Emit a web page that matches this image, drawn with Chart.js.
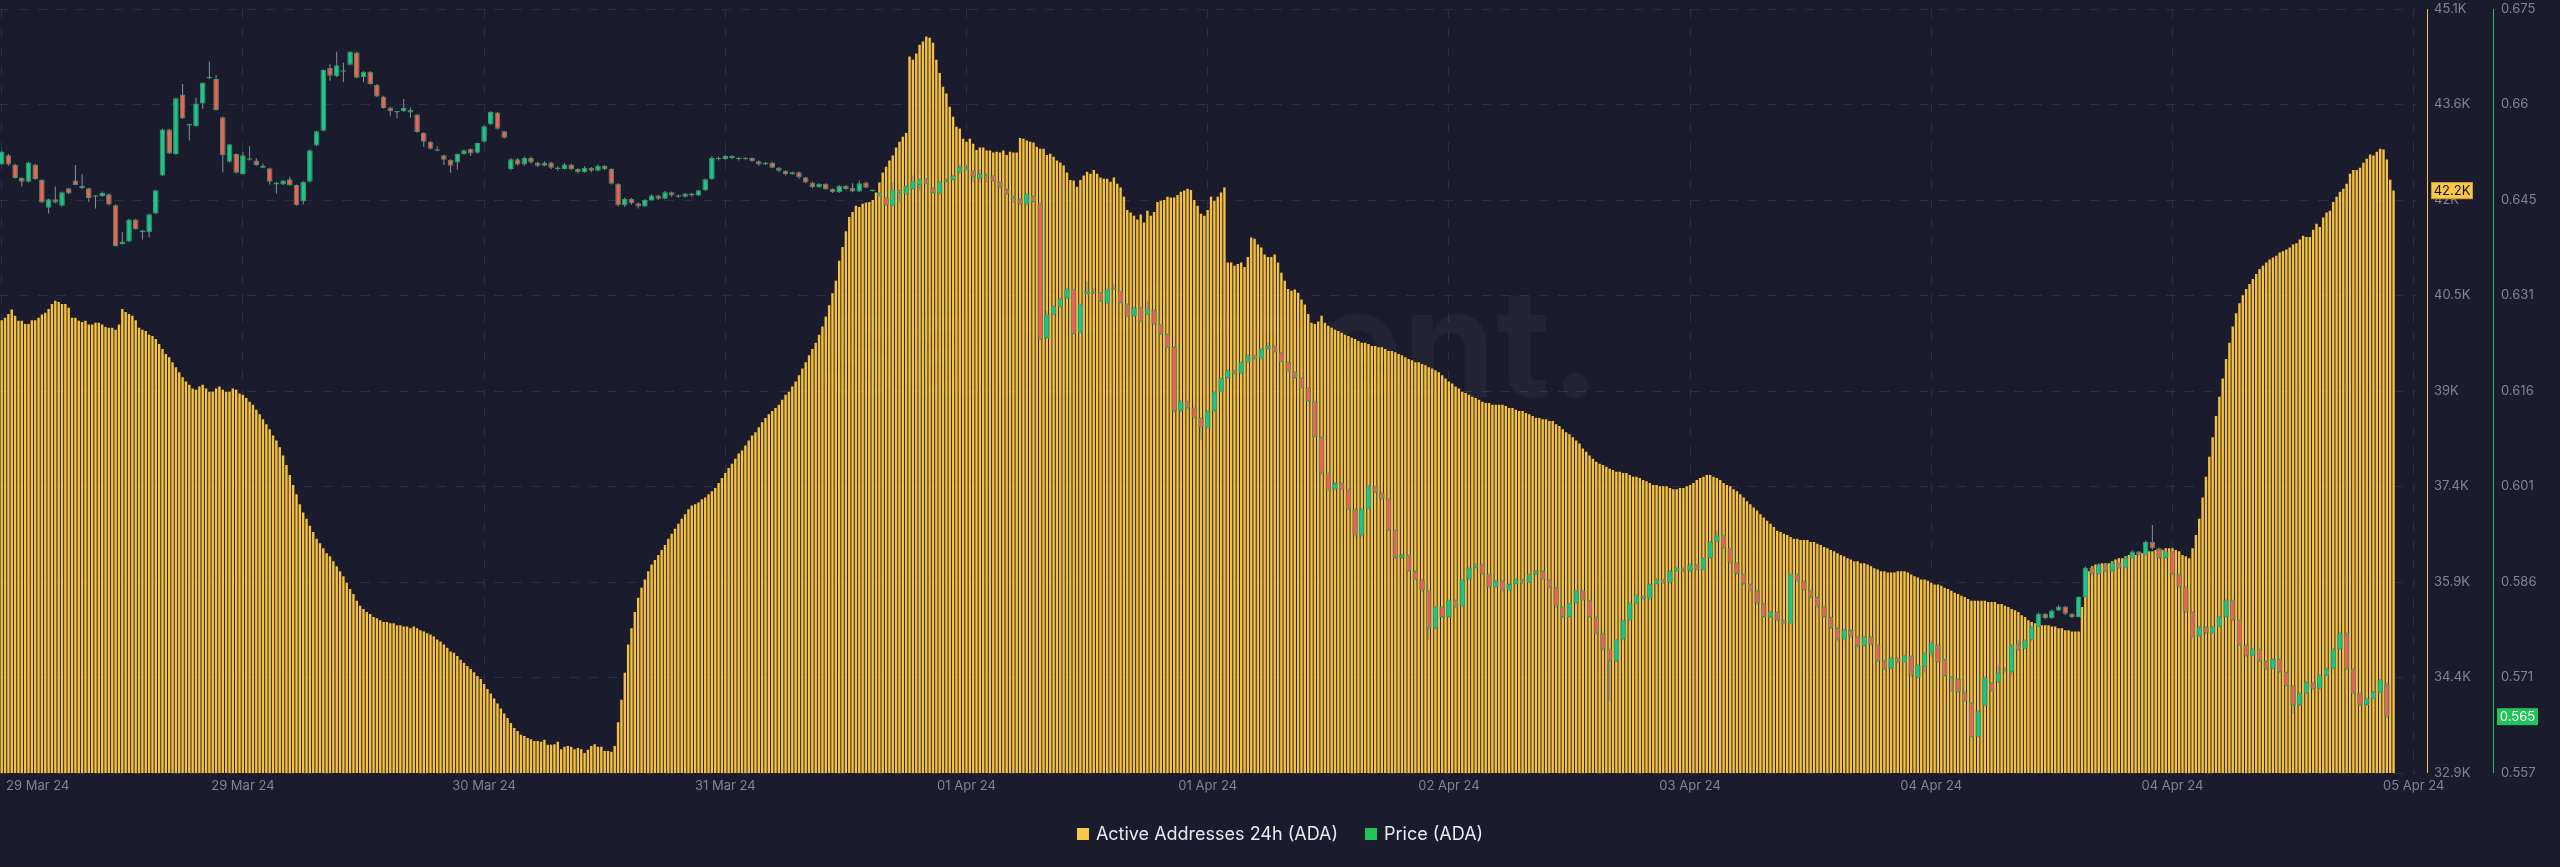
<!DOCTYPE html>
<html>
<head>
<meta charset="utf-8">
<title>Active Addresses 24h vs Price (ADA)</title>
<script src="https://cdn.jsdelivr.net/npm/chart.js@4.4.0/dist/chart.umd.min.js"></script>
<style>
  html, body { margin: 0; padding: 0; background: #1a1b2c; }
  #wrap { position: relative; width: 2560px; height: 867px; }
  #legend {
    position: absolute; left: 0; top: 825px; width: 2560px;
    display: flex; justify-content: center; gap: 27px;
    font: 18px Inter, "Noto Sans", sans-serif; color: #e9eaf0; line-height: 18px;
  }
  #legend .item { display: flex; align-items: center; gap: 7px; }
  #legend .item i { display: inline-block; width: 12px; height: 12px; }
</style>
</head>
<body>
<div id="wrap">
  <canvas id="chart" width="2560" height="867"></canvas>
  <div id="legend">
    <span class="item"><i style="background:#f9c74a"></i>Active Addresses 24h (ADA)</span>
    <span class="item"><i style="background:#22c35a"></i>Price (ADA)</span>
  </div>
</div>
<script>
// time axis: hours since 29 Mar 24 00:00
const BAR_STEP_HOURS = 0.25    // active addresses, one bar per 15 min
const CANDLE_STEP_HOURS = 0.5  // price candles, 30 min
const xTickHours = [0, 18, 36, 54, 72, 90, 108, 126, 144, 162, 180]
const xTickLabels = ['29 Mar 24', '29 Mar 24', '30 Mar 24', '31 Mar 24', '01 Apr 24', '01 Apr 24',
  '02 Apr 24', '03 Apr 24', '04 Apr 24', '04 Apr 24', '05 Apr 24']

const addressMin = 32900
const addressMax = 45100
const addressTickLabels = ['32.9K', '34.4K', '35.9K', '37.4K', '39K', '40.5K', '42K', '43.6K', '45.1K']
const priceMin = 0.557
const priceMax = 0.675
const priceTickLabels = ['0.557', '0.571', '0.586', '0.601', '0.616', '0.631', '0.645', '0.66', '0.675']

// Active Addresses 24h (ADA)
const activeAddresses = [
  40130,40170,40230,40300,40200,40120,40120,40070,40070,40130,
  40130,40170,40220,40250,40310,40390,40440,40420,40390,40390,
  40330,40170,40170,40120,40100,40120,40060,40060,40090,40090,
  40060,40020,40010,40010,39980,40060,40310,40260,40230,40200,
  40130,40010,39980,
  39960,39900,39880,39830,39750,39670,39590,39540,39460,39380,
  39300,39220,39150,39100,39040,39020,39070,39100,39040,38990,
  38990,39040,39070,39020,38990,38990,39040,39020,38960,38940,
  38890,38830,38780,38700,38630,38550,38470,38390,38290,38210,
  38100,37970,37820,37660,37500,37350,37190,37060,36960,36850,
  36750,36640,36570,36490,36410,36360,36280,36200,36120,36040,
  35940,35840,35760,35650,35570,35520,35470,35440,35390,35370,
  35340,35310,35310,35290,35290,35260,35260,35240,35240,35210,
  35240,35210,35180,35160,35130,35110,35080,35030,35000,34950,
  34900,34840,34820,34770,34710,34660,34610,34560,34510,34450,
  34400,34320,34240,34170,34090,34010,33930,33850,33780,33700,
  33620,33570,33510,33490,33460,33440,33410,33410,
  33400,33430,33350,33350,33360,33400,33280,33320,33330,33320,
  33280,33300,33280,33220,33270,33330,33360,33320,33320,33250,
  33250,33240,33330,33710,34070,
  34500,34950,35210,35470,35700,35860,35990,36120,36230,36300,
  36380,36460,36540,36640,36720,36800,36880,36960,37030,37110,
  37170,37190,37220,37270,37300,37350,37400,37450,37530,37610,
  37690,37770,37840,37920,38000,38050,38130,38210,38290,38340,
  38420,38500,38570,38630,38680,38730,38780,38860,38940,38990,
  39070,39150,39250,39360,39460,39570,39670,39770,39900,40030,
  40190,40370,40560,40760,41080,41300,41550,
  41780,41860,41960,41940,41990,42010,42020,42050,42170,42330,
  42490,42580,42680,42760,42890,42980,43060,43120,44340,44290,
  44390,44530,44580,44660,44640,44560,44290,44080,43860,43750,
  43540,43380,43220,43190,43030,42980,43030,42950,42850,42890,
  42890,42840,42840,42810,42820,42810,42840,42770,42820,42810,
  42810,43040,43030,43000,42980,42970,42900,42870,42870,42770,
  42790,42740,42680,42650,42600,42490,42370,42360,42260,42370,
  42440,42500,42470,42530,42470,42410,42390,42390,42340,42410,
  42310,42250,42100,41890,41850,41800,41740,41820,41690,41880,
  41800,41860,42020,42040,42050,42100,42090,42090,42130,42180,
  42200,42230,42210,42050,41960,41830,41800,41890,42100,42040,
  42100,42170,42250,41050,41050,41000,41030,41050,40980,41140,
  41450,41430,41340,41290,41180,41140,41140,41180,41050,40890,
  40760,40630,40600,40620,40570,40460,40380,40230,40090,40070,
  40110,40200,40090,40040,40010,39980,
  39960,
  39930,39900,39880,39850,39830,39800,39770,39770,39750,39720,
  39720,39700,39700,39670,39640,39640,39620,39590,39570,39540,
  39510,39490,39460,39460,39430,39410,39380,39360,39330,39300,
  39250,39200,39150,39120,39070,39040,38990,38970,38940,38910,
  38890,38860,38830,38810,38810,38780,38780,38780,38780,38760,
  38730,38730,38700,38680,38680,38650,38630,38600,38570,38570,
  38550,38550,38520,38520,38470,38440,38390,38340,38310,38260,
  38210,38160,38080,38030,37970,37920,37870,37840,37820,37790,
  37760,37740,37710,37710,37690,37690,37660,37630,37630,37610,
  37580,37560,37530,37500,37500,37480,37480,37480,37450,37430,
  37430,37450,37450,37480,37500,37530,37580,37610,37630,37660,
  37660,37630,37610,37580,37530,37500,37480,37430,37400,37350,
  37300,37240,37190,37140,37090,37030,36980,36930,36880,36830,
  36770,36750,36720,36700,36670,36640,36640,36620,36620,36620,
  36590,36590,36560,36540,36510,36490,36460,36440,36410,36380,
  36360,36330,36310,36280,36280,36250,36250,36230,36200,36170,
  36150,36120,36120,36100,36100,36100,36120,36120,36120,36100,
  36070,36040,36020,35990,35990,35970,35940,35910,35910,35890,
  35860,35840,35810,35780,35760,35730,35710,35680,35650,35650,
  35650,35650,35650,35630,35630,35630,35600,35600,35570,35550,
  35520,35500,35470,35420,35390,35340,35310,35290,35260,35260,
  35260,35260,35240,35240,35210,35210,35180,35180,35160,35160,
  35160,35550,35860,36120,36200,36230,36230,36250,36250,36250,
  36280,36310,36330,36330,36360,36380,36380,36380,36410,36410,
  36440,36440,36440,36460,36460,36460,36490,36490,36490,36460,
  36440,36380,36360,36330,36490,36700,36960,37300,37630,37950,
  38260,38600,38910,39200,39510,39770,40030,40240,40400,40530,
  40630,40710,40790,40870,40950,41000,41050,41100,41130,41160,
  41210,41230,41260,41290,41340,41360,41420,
  41480,41460,41460,41575,41670,41620,41770,41850,41880,42020,
  42100,42180,42230,42310,42470,42530,42530,42565,42645,42710,
  42775,42760,42820,42870,42855,42695,42375,42200
]

// Price (ADA), 30 min candles
const priceOpen = [
  .6510,.6524,.6510,.6489,.6483,.6510,.6486,.6443,.6456,.6446,
  .6473,.6485,.6477,.6473,.6461,.6461,.6464,.6447,.6387,.6391,
  .6425,.6408,.6405,.6434,.6493,.6564,.6526,.6618,.6570,.6569,
  .6604,.6643,.6642,.6583,.6514,.6526,.6495,.6519,.6516,.6508,
  .6504,.6482,.6479,.6487,.6478,.6453,.6483,.6539,.6562,.6659,
  .6646,.6654,.6664,.6683,.6645,.6653,.6633,.6615,.6598,.6591,
  .6592,.6594,.6587,.6559,.6545,.6533,.6524,.6517,.6513,.6526,
  .6534,.6528,.6545,.6572,.6590,.6561,.6503,.6518,.6510,.6520,
  .6513,.6508,.6513,.6505,.6503,.6510,.6503,.6498,.6505,.6500,
  .6508,.6503,.6480,.6447,.6457,.6450,.6445,.6455,.6462,.6457,
  .6467,.6462,.6460,.6465,.6462,.6470,.6487,.6520,.6518,.6523,
  .6520,.6518,.6520,.6515,.6510,.6513,.6505,.6500,.6495,.6498,
  .6490,.6482,.6475,.6480,.6472,.6467,.6477,.6474,.6468,.6482,
  .6470,.6466,.6459,.6446,.6470,.6464,.6472,.6478,.6488,.6474,
  .6465,.6486,.6486,.6497,.6506,.6500,.6489,.6494,.6493,.6483,
  .6472,.6461,.6457,.6448,.6461,.6450,.6242,.6278,.6290,.6303,
  .6317,.6250,.6309,.6313,.6312,.6295,.6317,.6314,.6294,.6276,
  .6289,.6278,.6285,.6263,.6248,.6228,.6129,.6144,.6134,.6119,
  .6104,.6129,.6159,.6180,.6192,.6187,.6205,.6215,.6210,.6225,
  .6230,.6220,.6205,.6190,.6180,.6165,.6144,.6089,.6033,.6008,
  .6018,.6008,.5978,.5937,.5978,.6013,.6003,.5993,.5945,.5902,
  .5907,.5882,.5869,.5852,.5794,.5827,.5811,.5837,.5827,.5869,
  .5887,.5892,.5877,.5857,.5867,.5852,.5862,.5869,.5864,.5877,
  .5882,.5869,.5857,.5827,.5811,.5832,.5852,.5837,.5811,.5786,
  .5761,.5743,.5776,.5806,.5832,.5844,.5839,.5862,.5869,.5864,
  .5882,.5887,.5882,.5892,.5884,.5902,.5927,.5937,.5917,.5895,
  .5877,.5862,.5852,.5832,.5811,.5819,.5806,.5801,.5877,.5867,
  .5852,.5842,.5827,.5811,.5794,.5776,.5791,.5781,.5766,.5781,
  .5768,.5743,.5731,.5748,.5741,.5751,.5717,.5735,.5755,.5768,
  .5746,.5718,.5715,.5694,.5678,.5626,.5674,.5709,.5711,.5728,
  .5726,.5769,.5762,.5775,.5796,.5816,.5809,.5821,.5827,.5816,
  .5811,.5842,.5887,.5877,.5892,.5882,.5895,.5887,.5902,.5912,
  .5907,.5927,.5917,.5902,.5912,.5877,.5857,.5819,.5781,.5796,
  .5786,.5796,.5811,.5837,.5806,.5768,.5751,.5761,.5743,.5731,
  .5746,.5726,.5705,.5675,.5693,.5710,.5700,.5721,.5731,.5761,
  .5786,.5731,.5693,.5675,.5685,.5694,.5708
]
const priceClose = [
  .6529,.6510,.6489,.6483,.6513,.6487,.6451,.6456,.6451,.6467,
  .6465,.6478,.6473,.6458,.6460,.6466,.6448,.6384,.6391,.6425,
  .6410,.6405,.6433,.6470,.6564,.6527,.6612,.6581,.6570,.6604,
  .6636,.6644,.6594,.6524,.6541,.6497,.6524,.6517,.6509,.6505,
  .6483,.6479,.6485,.6478,.6447,.6483,.6532,.6561,.6656,.6647,
  .6663,.6653,.6684,.6644,.6653,.6634,.6615,.6597,.6592,.6590,
  .6597,.6590,.6560,.6545,.6534,.6531,.6517,.6508,.6526,.6532,
  .6527,.6543,.6569,.6591,.6565,.6551,.6518,.6510,.6520,.6513,
  .6508,.6513,.6505,.6503,.6510,.6503,.6498,.6505,.6500,.6508,
  .6503,.6480,.6447,.6457,.6450,.6445,.6455,.6462,.6457,.6467,
  .6462,.6460,.6465,.6462,.6470,.6487,.6520,.6518,.6523,.6520,
  .6518,.6520,.6515,.6510,.6513,.6505,.6500,.6495,.6498,.6490,
  .6482,.6475,.6480,.6472,.6467,.6477,.6472,.6468,.6481,.6474,
  .6469,.6461,.6447,.6471,.6466,.6477,.6484,.6487,.6480,.6466,
  .6483,.6483,.6493,.6506,.6502,.6491,.6495,.6493,.6484,.6474,
  .6464,.6457,.6448,.6465,.6452,.6240,.6278,.6291,.6303,.6318,
  .6248,.6294,.6314,.6311,.6299,.6317,.6320,.6296,.6275,.6289,
  .6267,.6286,.6263,.6248,.6228,.6129,.6144,.6134,.6119,.6104,
  .6129,.6159,.6180,.6192,.6187,.6205,.6215,.6210,.6225,.6230,
  .6220,.6205,.6190,.6180,.6165,.6144,.6089,.6033,.6008,.6018,
  .6008,.5978,.5937,.5978,.6013,.6003,.5993,.5945,.5902,.5907,
  .5882,.5869,.5852,.5794,.5827,.5811,.5837,.5827,.5869,.5887,
  .5892,.5877,.5857,.5867,.5852,.5862,.5869,.5864,.5877,.5882,
  .5869,.5857,.5827,.5811,.5832,.5852,.5837,.5811,.5786,.5761,
  .5743,.5776,.5806,.5832,.5844,.5839,.5862,.5869,.5864,.5882,
  .5887,.5882,.5892,.5884,.5902,.5927,.5937,.5917,.5895,.5877,
  .5862,.5852,.5832,.5811,.5819,.5806,.5801,.5877,.5867,.5852,
  .5842,.5827,.5811,.5794,.5776,.5791,.5781,.5766,.5781,.5768,
  .5743,.5731,.5748,.5741,.5751,.5721,.5737,.5755,.5771,.5741,
  .5720,.5717,.5695,.5681,.5626,.5666,.5717,.5697,.5725,.5730,
  .5768,.5760,.5775,.5796,.5816,.5809,.5821,.5827,.5816,.5811,
  .5842,.5887,.5877,.5892,.5882,.5895,.5887,.5902,.5912,.5907,
  .5927,.5917,.5902,.5912,.5877,.5857,.5819,.5781,.5796,.5786,
  .5796,.5811,.5837,.5806,.5768,.5751,.5761,.5743,.5731,.5746,
  .5726,.5705,.5675,.5693,.5710,.5700,.5721,.5731,.5761,.5786,
  .5731,.5693,.5675,.5685,.5695,.5714,.5657
]
const priceHigh = [
  .6531,.6526,.6511,.6490,.6514,.6511,.6487,.6457,.6476,.6468,
  .6474,.6509,.6495,.6474,.6462,.6468,.6465,.6448,.6405,.6426,
  .6426,.6409,.6434,.6471,.6565,.6565,.6613,.6634,.6571,.6613,
  .6637,.6669,.6648,.6584,.6542,.6527,.6529,.6538,.6520,.6511,
  .6505,.6483,.6486,.6491,.6479,.6484,.6533,.6562,.6657,.6665,
  .6684,.6667,.6685,.6684,.6654,.6654,.6634,.6616,.6599,.6592,
  .6611,.6598,.6588,.6560,.6546,.6538,.6525,.6518,.6527,.6533,
  .6535,.6544,.6570,.6592,.6591,.6562,.6520,.6520,.6522,.6522,
  .6514,.6515,.6514,.6507,.6512,.6511,.6504,.6507,.6506,.6510,
  .6509,.6504,.6481,.6459,.6458,.6451,.6456,.6464,.6463,.6469,
  .6468,.6463,.6466,.6466,.6471,.6488,.6523,.6522,.6525,.6524,
  .6521,.6521,.6521,.6516,.6514,.6514,.6506,.6501,.6499,.6499,
  .6491,.6483,.6481,.6481,.6473,.6478,.6478,.6481,.6485,.6483,
  .6471,.6467,.6460,.6482,.6471,.6478,.6493,.6488,.6489,.6475,
  .6484,.6489,.6494,.6510,.6510,.6501,.6503,.6495,.6494,.6484,
  .6473,.6462,.6458,.6466,.6462,.6451,.6283,.6292,.6304,.6319,
  .6318,.6295,.6330,.6320,.6313,.6318,.6325,.6315,.6295,.6290,
  .6290,.6299,.6286,.6264,.6249,.6229,.6146,.6145,.6135,.6120,
  .6130,.6160,.6181,.6194,.6193,.6206,.6217,.6216,.6226,.6235,
  .6231,.6221,.6206,.6191,.6181,.6166,.6145,.6090,.6034,.6020,
  .6019,.6009,.5979,.5979,.6015,.6014,.6004,.5994,.5946,.5909,
  .5908,.5883,.5870,.5853,.5828,.5828,.5838,.5838,.5870,.5888,
  .5894,.5893,.5878,.5868,.5868,.5864,.5871,.5870,.5878,.5884,
  .5883,.5870,.5858,.5828,.5833,.5853,.5853,.5838,.5812,.5787,
  .5762,.5777,.5807,.5833,.5846,.5845,.5863,.5871,.5870,.5883,
  .5889,.5888,.5894,.5893,.5903,.5928,.5945,.5938,.5918,.5896,
  .5878,.5863,.5853,.5833,.5821,.5820,.5807,.5878,.5878,.5868,
  .5853,.5843,.5828,.5812,.5795,.5793,.5792,.5782,.5782,.5782,
  .5769,.5744,.5750,.5749,.5753,.5752,.5738,.5756,.5775,.5769,
  .5747,.5719,.5716,.5698,.5679,.5667,.5720,.5710,.5737,.5734,
  .5769,.5775,.5777,.5797,.5818,.5817,.5823,.5829,.5828,.5817,
  .5843,.5889,.5888,.5894,.5893,.5897,.5896,.5904,.5914,.5913,
  .5929,.5953,.5918,.5914,.5913,.5878,.5858,.5820,.5798,.5797,
  .5798,.5813,.5839,.5838,.5807,.5769,.5763,.5762,.5744,.5748,
  .5747,.5727,.5706,.5695,.5712,.5711,.5723,.5733,.5763,.5788,
  .5787,.5732,.5694,.5687,.5697,.5716,.5710
]
const priceLow = [
  .6510,.6508,.6488,.6476,.6482,.6486,.6450,.6434,.6450,.6445,
  .6464,.6478,.6472,.6452,.6442,.6460,.6447,.6383,.6386,.6390,
  .6409,.6394,.6397,.6433,.6492,.6526,.6525,.6580,.6547,.6568,
  .6596,.6642,.6593,.6498,.6513,.6496,.6494,.6516,.6508,.6504,
  .6479,.6465,.6478,.6477,.6446,.6448,.6482,.6538,.6561,.6639,
  .6645,.6637,.6663,.6643,.6637,.6633,.6614,.6596,.6585,.6581,
  .6591,.6582,.6559,.6537,.6533,.6530,.6509,.6497,.6502,.6525,
  .6523,.6527,.6544,.6571,.6564,.6550,.6501,.6508,.6508,.6511,
  .6506,.6507,.6503,.6500,.6502,.6501,.6496,.6497,.6498,.6499,
  .6501,.6479,.6445,.6444,.6448,.6442,.6444,.6454,.6455,.6456,
  .6460,.6458,.6459,.6460,.6461,.6469,.6486,.6516,.6517,.6518,
  .6516,.6517,.6514,.6508,.6509,.6504,.6498,.6493,.6494,.6488,
  .6481,.6473,.6474,.6471,.6466,.6466,.6471,.6467,.6467,.6473,
  .6468,.6460,.6446,.6445,.6452,.6463,.6471,.6470,.6479,.6465,
  .6464,.6482,.6485,.6496,.6501,.6482,.6482,.6482,.6483,.6473,
  .6463,.6451,.6447,.6447,.6451,.6238,.6240,.6277,.6289,.6302,
  .6247,.6249,.6308,.6310,.6298,.6294,.6316,.6295,.6274,.6275,
  .6266,.6277,.6262,.6246,.6226,.6126,.6127,.6132,.6117,.6084,
  .6102,.6128,.6158,.6179,.6185,.6186,.6204,.6208,.6209,.6224,
  .6219,.6204,.6189,.6178,.6164,.6143,.6088,.6031,.6005,.6006,
  .6007,.5976,.5935,.5935,.5977,.6002,.5991,.5943,.5900,.5900,
  .5880,.5868,.5850,.5776,.5792,.5809,.5810,.5825,.5826,.5868,
  .5886,.5876,.5855,.5856,.5850,.5851,.5861,.5862,.5863,.5876,
  .5868,.5855,.5825,.5809,.5810,.5831,.5836,.5810,.5784,.5759,
  .5680,.5741,.5775,.5805,.5831,.5837,.5838,.5861,.5862,.5863,
  .5881,.5880,.5881,.5883,.5883,.5901,.5926,.5916,.5893,.5876,
  .5860,.5850,.5830,.5810,.5810,.5804,.5799,.5800,.5865,.5851,
  .5840,.5825,.5810,.5792,.5774,.5775,.5779,.5764,.5765,.5766,
  .5741,.5729,.5730,.5739,.5740,.5718,.5716,.5726,.5749,.5740,
  .5719,.5695,.5694,.5680,.5625,.5625,.5673,.5696,.5709,.5725,
  .5721,.5759,.5761,.5773,.5795,.5807,.5808,.5820,.5814,.5809,
  .5810,.5841,.5875,.5876,.5880,.5881,.5885,.5886,.5901,.5905,
  .5906,.5915,.5900,.5901,.5875,.5855,.5817,.5779,.5780,.5784,
  .5785,.5795,.5810,.5804,.5766,.5749,.5750,.5741,.5729,.5730,
  .5724,.5703,.5662,.5673,.5692,.5698,.5699,.5720,.5730,.5760,
  .5729,.5691,.5673,.5674,.5684,.5693,.5655
]

const YELLOW = '#f6c13e'
const GREEN = '#1fc38b'
const RED = '#f0615a'
const TICK_COLOR = '#7f8499'
const GRID_COLOR = '#2c2f43'

const addressPoints = activeAddresses.map((v, i) => ({ x: i * BAR_STEP_HOURS, y: v }))
const bodyPoints = priceOpen.map((o, j) => ({ x: j * CANDLE_STEP_HOURS, y: [o, priceClose[j]] }))
const wickPoints = priceLow.map((l, j) => ({ x: j * CANDLE_STEP_HOURS, y: [l, priceHigh[j]] }))
const candleColors = priceOpen.map((o, j) => priceClose[j] >= o ? GREEN : RED)

function evenTicks(min, max, count) {
  const out = []
  for (let k = 0; k < count; k++) out.push({ value: min + (max - min) * k / (count - 1) })
  return out
}

// right axes: fixed width, no extra top/bottom padding from the tick labels
function fixAxisWidth(width) {
  return (scale) => {
    scale.width = width
    scale.paddingTop = 0
    scale.paddingBottom = 0
  }
}

// Watermark, custom x labels, right axis lines and last-value tags
const overlayPlugin = {
  id: 'overlay',
  beforeDatasetsDraw(chart) {
    const { ctx, chartArea } = chart
    ctx.save()
    ctx.font = 'bold 150px Inter, sans-serif'
    ctx.fillStyle = 'rgba(255, 255, 255, 0.035)'
    ctx.textAlign = 'center'
    ctx.textBaseline = 'middle'
    ctx.fillText('santiment.', (chartArea.left + chartArea.right) / 2, 352)
    ctx.restore()
  },
  afterDraw(chart) {
    const { ctx, chartArea, scales } = chart
    ctx.save()

    // axis lines
    const h = chartArea.bottom - chartArea.top
    ctx.fillStyle = '#f4c542'
    ctx.fillRect(scales.y.left + 10, chartArea.top, 1, h)
    ctx.fillStyle = '#22c35a'
    ctx.fillRect(scales.y1.left, chartArea.top, 1, h)

    // x tick labels (first one is kept inside the canvas)
    ctx.font = '13px Inter, sans-serif'
    ctx.fillStyle = TICK_COLOR
    ctx.textAlign = 'left'
    ctx.textBaseline = 'middle'
    xTickHours.forEach((hour, k) => {
      const label = xTickLabels[k]
      const w = ctx.measureText(label).width
      const x = Math.max(scales.x.getPixelForValue(hour) - w / 2, 6)
      ctx.fillText(label, x, chartArea.bottom + 13)
    })

    // last value tags
    ctx.textAlign = 'center'
    const lastAddr = activeAddresses[activeAddresses.length - 1]
    const ya = scales.y.getPixelForValue(lastAddr)
    ctx.fillStyle = '#f9c74a'
    ctx.fillRect(scales.y.left + 14, ya - 8.5, 42, 17)
    ctx.strokeStyle = '#c99a2c'
    ctx.strokeRect(scales.y.left + 14.5, ya - 8, 41, 16)
    ctx.fillStyle = '#111111'
    ctx.fillText((lastAddr / 1000).toFixed(1) + 'K', scales.y.left + 35, ya + 0.5)

    const lastPrice = priceClose[priceClose.length - 1]
    const yp = scales.y1.getPixelForValue(lastPrice)
    ctx.fillStyle = '#22c35a'
    ctx.fillRect(scales.y1.left + 4, yp - 8.5, 41, 17)
    ctx.fillStyle = '#ffffff'
    ctx.fillText((Math.floor(lastPrice * 1000) / 1000).toFixed(3), scales.y1.left + 24.5, yp + 0.5)

    ctx.restore()
  }
}

const ctx = document.getElementById('chart').getContext('2d')
new Chart(ctx, {
  type: 'bar',
  data: {
    datasets: [
      {
        label: 'Price (ADA)',
        data: bodyPoints,
        yAxisID: 'y1',
        order: 0,
        grouped: false,
        barThickness: 5.6,
        minBarLength: 1.5,
        backgroundColor: candleColors,
        borderColor: '#3a9a63',
        borderWidth: 1,
        borderSkipped: false,
        inflateAmount: 0
      },
      {
        label: 'Price wicks',
        data: wickPoints,
        yAxisID: 'y1',
        order: 1,
        grouped: false,
        barThickness: 1,
        backgroundColor: '#8a8ea2',
        borderWidth: 0,
        inflateAmount: 0
      },
      {
        label: 'Active Addresses 24h (ADA)',
        data: addressPoints,
        yAxisID: 'y',
        order: 2,
        grouped: false,
        barPercentage: 0.72,
        categoryPercentage: 1,
        backgroundColor: YELLOW,
        borderWidth: 0,
        inflateAmount: 0
      }
    ]
  },
  options: {
    responsive: false,
    animation: false,
    events: [],
    devicePixelRatio: 1,
    layout: {
      autoPadding: false,
      padding: { top: 9, bottom: 94, left: 0, right: 0 }
    },
    plugins: {
      legend: { display: false },
      tooltip: { enabled: false }
    },
    scales: {
      x: {
        type: 'linear',
        min: -0.127,
        max: 180.25,
        offset: false,
        afterBuildTicks: (scale) => { scale.ticks = xTickHours.map(v => ({ value: v })) },
        afterFit: (scale) => { scale.height = 0 },
        ticks: { display: false },
        grid: { color: GRID_COLOR, drawTicks: false, offset: false },
        border: { display: false, dash: [9, 10] }
      },
      y: {
        position: 'right',
        weight: 0,
        min: addressMin,
        max: addressMax,
        afterBuildTicks: (scale) => { scale.ticks = evenTicks(addressMin, addressMax, addressTickLabels.length) },
        afterFit: fixAxisWidth(76),
        ticks: {
          color: TICK_COLOR,
          font: { family: 'Inter', size: 13 },
          padding: 17,
          callback: (value, index) => addressTickLabels[index]
        },
        grid: { color: GRID_COLOR, drawTicks: false },
        border: { display: false, dash: [9, 10] }
      },
      y1: {
        position: 'right',
        weight: 1,
        min: priceMin,
        max: priceMax,
        afterBuildTicks: (scale) => { scale.ticks = evenTicks(priceMin, priceMax, priceTickLabels.length) },
        afterFit: fixAxisWidth(67),
        ticks: {
          color: TICK_COLOR,
          font: { family: 'Inter', size: 13 },
          padding: 8,
          callback: (value, index) => priceTickLabels[index]
        },
        grid: { display: false, drawTicks: false },
        border: { display: false }
      }
    }
  },
  plugins: [overlayPlugin]
})
</script>
</body>
</html>
